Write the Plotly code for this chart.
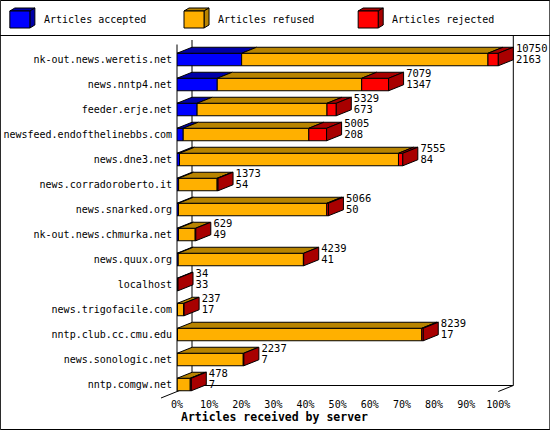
import plotly.graph_objects as go

# Articles per server
servers = [
    "nk-out.news.weretis.net", "news.nntp4.net", "feeder.erje.net",
    "newsfeed.endofthelinebbs.com", "news.dne3.net", "news.corradoroberto.it",
    "news.snarked.org", "nk-out.news.chmurka.net", "news.quux.org", "localhost",
    "news.trigofacile.com", "nntp.club.cc.cmu.edu", "news.sonologic.net",
    "nntp.comgw.net",
]
received = [10750, 7079, 5329, 5005, 7555, 1373, 5066, 629, 4239, 34, 237, 8239, 2237, 478]
accepted = [2163, 1347, 673, 208, 84, 54, 50, 49, 41, 33, 17, 17, 7, 7]
rejected = [345, 900, 310, 595, 145, 30, 55, 20, 10, 1, 10, 50, 20, 35]
refused = [r - a - j for r, a, j in zip(received, accepted, rejected)]

series_names = ["Articles accepted", "Articles refused", "Articles rejected"]
front_cols = ["#0000ff", "#ffb000", "#ff0000"]
dark_cols = ["#0000a8", "#b88400", "#a80000"]

FONT = "DejaVu Sans Mono"
W, H = 550, 430
PX_PER_PCT = 3.21
XMAX = 108.0
L, T, B = 177, 40, 392               # plot area in pixels
R = L + XMAX * PX_PER_PCT
DX = 15 / PX_PER_PCT                 # 3d depth, in % units
DY = 6 / 25                          # 3d depth, in category units
HALF = 0.25                          # half bar thickness

top = max(received)
pct = lambda v: 100.0 * v / top
rows = list(range(len(servers)))

fig = go.Figure()

# front faces: stacked horizontal bars
stacks = [accepted, refused, rejected]
base = [0.0] * len(servers)
for name, vals, col in zip(series_names, stacks, front_cols):
    w = [pct(v) for v in vals]
    fig.add_trace(go.Bar(
        y=rows, x=w, base=base, orientation="h", width=2 * HALF, name=name,
        marker=dict(color=col, line=dict(color="black", width=1)),
        showlegend=False, hoverinfo="skip",
    ))
    base = [b + x for b, x in zip(base, w)]

# top faces of each segment and the side face at the end of each bar
def poly(xs, ys, col):
    fig.add_trace(go.Scatter(
        x=xs + [xs[0]], y=ys + [ys[0]], mode="lines", fill="toself",
        fillcolor=col, line=dict(color="black", width=1),
        showlegend=False, hoverinfo="skip",
    ))

for i in rows:
    x0 = 0.0
    yt = i - HALF
    for vals, col in zip(stacks, dark_cols):
        x1 = x0 + pct(vals[i])
        if x1 - x0 > 0.2:
            poly([x0, x1, x1 + DX, x0 + DX], [yt, yt, yt - DY, yt - DY], col)
        x0 = x1
    end = pct(received[i])
    poly([end, end + DX, end + DX, end],
         [i - HALF, i - HALF - DY, i + HALF - DY, i + HALF], dark_cols[2])

# value labels: received on top, accepted below
lab_x = [pct(v) + DX + 0.8 for v in received]
fig.add_trace(go.Scatter(
    x=lab_x, y=[i - 0.39 for i in rows], mode="text",
    text=[str(v) for v in received], textposition="middle right",
    textfont=dict(family=FONT, size=10.5, color="black"),
    cliponaxis=False, showlegend=False, hoverinfo="skip",
))
fig.add_trace(go.Scatter(
    x=lab_x, y=[i + 0.05 for i in rows], mode="text",
    text=[str(v) for v in accepted], textposition="middle right",
    textfont=dict(family=FONT, size=10.5, color="black"),
    cliponaxis=False, showlegend=False, hoverinfo="skip",
))

# pixel -> paper helpers for the decorations
px = lambda x: (x - L) / (R - L)
py = lambda y: (B - y) / (B - T)

def line(x0, y0, x1, y1):
    return dict(type="line", xref="paper", yref="paper", layer="below",
                x0=px(x0), y0=py(y0), x1=px(x1), y1=py(y1),
                line=dict(color="black", width=1))

shapes = [
    dict(type="rect", xref="paper", yref="paper", x0=px(0.5), y0=py(429.5),
         x1=px(549.5), y1=py(0.5), line=dict(color="black", width=1)),
    line(0, 35.5, 550, 35.5),
    line(177, 44.5, 177, 391.5),
    line(192, 40, 192, 385.5),
    line(513, 36, 513, 385.5),
    line(192, 385.5, 513, 385.5),
    line(161, 398, 192, 385.5),
    line(498, 391.5, 513, 385.5),
]

# legend cubes
leg_x = [10, 184, 358]
for lx, name, fc, dc in zip(leg_x, series_names, front_cols, dark_cols):
    def path(pts):
        return "M " + " L ".join(f"{px(a)},{py(b)}" for a, b in pts) + " Z"
    shapes.append(dict(type="path", xref="paper", yref="paper", fillcolor=dc,
                       line=dict(color="black", width=1),
                       path=path([(lx, 11), (lx + 20, 11), (lx + 25, 8), (lx + 5, 8)])))
    shapes.append(dict(type="path", xref="paper", yref="paper", fillcolor=dc,
                       line=dict(color="black", width=1),
                       path=path([(lx + 20, 11), (lx + 25, 8), (lx + 25, 25), (lx + 20, 28)])))
    shapes.append(dict(type="rect", xref="paper", yref="paper", fillcolor=fc,
                       line=dict(color="black", width=1),
                       x0=px(lx), y0=py(28), x1=px(lx + 20), y1=py(11)))

annotations = [
    dict(text=name, xref="paper", yref="paper", x=px(lx + 32), y=py(20),
         xanchor="left", yanchor="middle", showarrow=False,
         font=dict(family=FONT, size=10, color="black"))
    for lx, name in zip(leg_x, series_names)
]
annotations.append(dict(
    text="<b>Articles received by server</b>", xref="paper", yref="paper",
    x=px(179), y=py(417), xanchor="left", yanchor="middle", showarrow=False,
    font=dict(family=FONT, size=11.5, color="black"),
))

fig.update_layout(
    template="none",
    width=W, height=H, autosize=False,
    margin=dict(l=L, r=W - R, t=T, b=H - B, pad=0),
    paper_bgcolor="white", plot_bgcolor="white",
    barmode="overlay", showlegend=False,
    shapes=shapes, annotations=annotations,
    xaxis=dict(range=[0, XMAX], tickvals=list(range(0, 101, 10)),
               ticktext=[f"{v}%" for v in range(0, 101, 10)],
               showgrid=False, zeroline=False, showline=False, ticks="",
               automargin=False, ticklabelstandoff=5,
               tickfont=dict(family=FONT, size=10, color="black"), fixedrange=True),
    yaxis=dict(range=[13.3, -0.78], tickvals=rows, ticktext=servers,
               showgrid=False, zeroline=False, showline=False, ticks="",
               automargin=False, ticklabelstandoff=4,
               tickfont=dict(family=FONT, size=10, color="black"), fixedrange=True),
)

# the page's default body margin would push the chart 8px in
fig.write_html("out.html", config={"displayModeBar": False},
               post_script="document.body.style.margin = '0';")
